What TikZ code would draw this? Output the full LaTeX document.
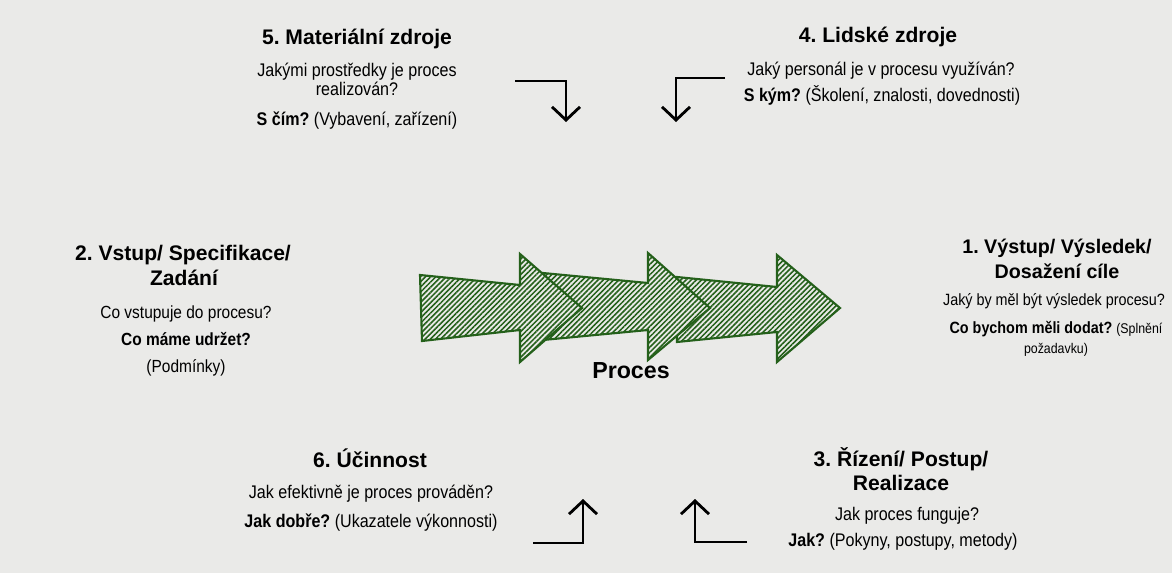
\documentclass[tikz,border=0pt]{standalone}
\usepackage{fontspec}
\setmainfont{Liberation Sans}
\newfontfamily\narrowsf[FakeStretch=0.88]{Liberation Sans}
\usetikzlibrary{arrows.meta,patterns.meta}
\frenchspacing
\definecolor{paper}{RGB}{234,234,232}
\definecolor{arrgreen}{RGB}{36,96,26}
\tikzset{
  title/.style={anchor=base,font=\bfseries\fontsize{15}{18}\selectfont},
  body/.style={anchor=base,font=\narrowsf\fontsize{13}{15}\selectfont},
  chain/.style={draw=arrgreen,line width=1.5pt,line join=miter,
    preaction={fill=paper},
    pattern={Lines[angle=45,distance=2.6pt,line width=1.1pt]},pattern color=arrgreen},
  bent/.style={line width=2pt,-{Straight Barb[length=3.3mm,width=7mm]}}
}
\begin{document}
\begin{tikzpicture}[x=0.025cm,y=-0.025cm]
    \fill[paper] (0,0) rectangle (1172,573);
    % process chain
    \draw[chain] (677,277) -- (777,287) -- (777,255) -- (840,308)
          -- (777,362) -- (777,332) -- (677,342) -- cycle;
    \draw[chain] (543,273) -- (648,283) -- (648,253) -- (710,308)
          -- (648,360) -- (648,330) -- (543,340) -- cycle;
    \draw[chain] (420,275) -- (520,285) -- (520,254) -- (582,308)
          -- (520,362) -- (520,330) -- (422,341) -- cycle;
    \node[anchor=base,font=\bfseries\fontsize{16.5}{19}\selectfont] (proces) at (631,378) {Proces};
    % 5
    \node[title] (mat) at (357,44) {5. Materiální zdroje};
    \node[body] (mat1) at (357,76) {Jakými prostředky je proces};
    \node[body] (mat2) at (357,95) {realizován?};
    \node[body] (mat3) at (357,125) {\textbf{S čím?} (Vybavení,\ zařízení)};
    % 4
    \node[title] (lid) at (878,42) {4. Lidské zdroje};
    \node[body] (lid1) at (881,75) {Jaký personál je v procesu využíván?};
    \node[body] (lid2) at (882,101) {\textbf{S kým?} (Školení,\ znalosti,\ dovednosti)};
    % 2
    \node[title] (vstup) at (183,260) {2. Vstup/ Specifikace/};
    \node[title] (vstup1) at (184,285) {Zadání};
    \node[body,font=\narrowsf\fontsize{12.5}{15}\selectfont] (vstup2) at (186,318) {Co vstupuje\ do procesu?};
    \node[body,font=\narrowsf\bfseries\fontsize{12.5}{15}\selectfont] (vstup3) at (186,345) {Co máme udržet?};
    \node[body,font=\narrowsf\fontsize{12.5}{15}\selectfont] (vstup4) at (186,372) {(Podmínky)};
    % 1
    \node[title,font=\bfseries\fontsize{14}{17}\selectfont] (vystup) at (1057,253) {1. Výstup/ Výsledek/};
    \node[title,font=\bfseries\fontsize{14}{17}\selectfont] (vystup1) at (1057,278) {Dosažení cíle};
    \node[body,font=\narrowsf\fontsize{11.6}{14}\selectfont] (vystup2) at (1054,305) {Jaký by měl být výsledek procesu?};
    \node[body,font=\narrowsf\fontsize{11.6}{14}\selectfont] (vystup3) at (1056,333)
          {\textbf{Co bychom měli dodat?} {\fontsize{10}{12}\selectfont(Splnění}};
    \node[body,font=\narrowsf\fontsize{10}{12}\selectfont] (vystup4) at (1056,353) {požadavku)};
    % 6
    \node[title] (ucin) at (370,467) {6. Účinnost};
    \node[body] (ucin1) at (371,498) {Jak efektivně\ je proces prováděn?};
    \node[body] (ucin2) at (371,527) {\textbf{Jak dobře?} (Ukazatele výkonnosti)};
    % 3
    \node[title] (rizeni) at (901,466) {3. Řízení/ Postup/};
    \node[title] (rizeni1) at (901,490) {Realizace};
    \node[body] (rizeni2) at (907,520) {Jak proces funguje?};
    \node[body] (rizeni3) at (903,546) {\textbf{Jak?} (Pokyny,\ postupy,\ metody)};
    % bent arrows
    \coordinate (tlA) at (515,81);  \coordinate (tlB) at (566,122);
    \coordinate (trA) at (725,78);  \coordinate (trB) at (676,122);
    \coordinate (blA) at (533,543); \coordinate (blB) at (583,499);
    \coordinate (brA) at (747,542); \coordinate (brB) at (695,499);
    \draw[bent] (tlA) -| (tlB);
    \draw[bent] (trA) -| (trB);
    \draw[bent] (blA) -| (blB);
    \draw[bent] (brA) -| (brB);
\end{tikzpicture}
\end{document}
